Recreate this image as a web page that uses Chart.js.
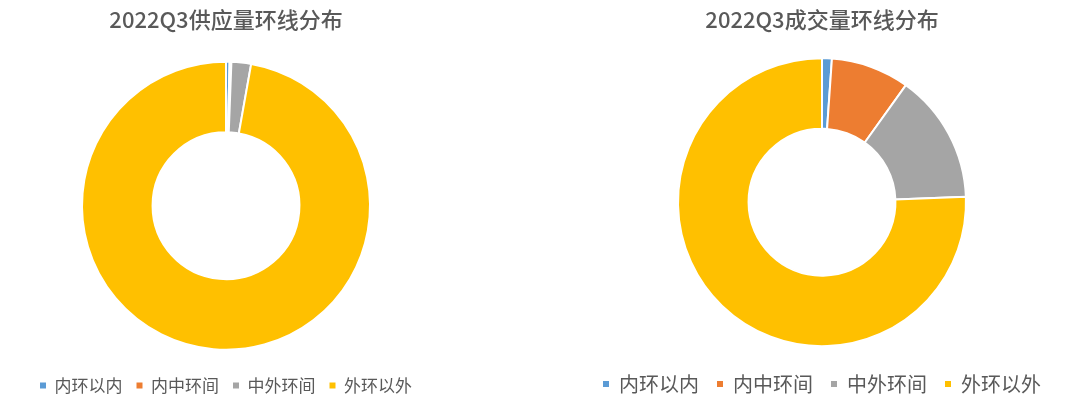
<!DOCTYPE html>
<html>
<head>
<meta charset="utf-8">
<script src="https://cdn.jsdelivr.net/npm/chart.js@4"></script>
<style>
    body { margin: 0; background: #fff; width: 1080px; height: 408px; position: relative; overflow: hidden; }
    .box { position: absolute; top: 0; height: 408px; }
    #leftBox { left: 0; width: 452px; }
    #rightBox { left: 552px; width: 540px; }
</style>
</head>
<body>
<div class="box" id="leftBox"><canvas id="supplyChart"></canvas></div>
<div class="box" id="rightBox"><canvas id="dealChart"></canvas></div>
<script>
// ring road zones
const zones = ['内环以内', '内中环间', '中外环间', '外环以外'];
// share of supply, percent
const supplyShare = [0.4, 0.2, 2.2, 97.2];
// share of deals, percent
const dealShare = [1.1, 8.8, 14.5, 75.6];
const zoneColors = ['#5B9BD5', '#ED7D31', '#A5A5A5', '#FFC000'];

const fontFamily = '"Noto Sans CJK SC", "Noto Sans", sans-serif';

function makeDoughnut(canvasId, title, values, legendSize, legendPad) {
    var ctx = document.getElementById(canvasId).getContext('2d');
    return new Chart(ctx, {
        type: 'doughnut',
        data: {
            labels: zones,
            datasets: [{
                data: values,
                backgroundColor: zoneColors,
                borderColor: '#ffffff',
                borderWidth: 2
            }]
        },
        options: {
            responsive: true,
            maintainAspectRatio: false,
            animation: false,
            cutout: '51%',
            radius: 144,
            layout: {
                padding: { bottom: 4 }
            },
            plugins: {
                title: {
                    display: true,
                    text: title,
                    color: '#595959',
                    font: { family: fontFamily, size: 22, weight: '500' },
                    padding: { top: 6, bottom: 16 }
                },
                legend: {
                    position: 'bottom',
                    labels: {
                        color: '#595959',
                        font: { family: fontFamily, size: legendSize },
                        usePointStyle: true,
                        pointStyle: 'rect',
                        boxWidth: 6,
                        boxHeight: 6,
                        padding: legendPad,
                        generateLabels: function (chart) {
                            return chart.data.labels.map(function (label, i) {
                                return {
                                    text: label,
                                    fillStyle: zoneColors[i],
                                    strokeStyle: zoneColors[i],
                                    lineWidth: 0,
                                    pointStyle: 'rect',
                                    fontColor: '#595959',
                                    hidden: false,
                                    index: i
                                };
                            });
                        }
                    }
                },
                tooltip: { enabled: false }
            }
        }
    });
}

makeDoughnut('supplyChart', '2022Q3供应量环线分布', supplyShare, 17, 14);
makeDoughnut('dealChart', '2022Q3成交量环线分布', dealShare, 20, 18);
</script>
</body>
</html>
